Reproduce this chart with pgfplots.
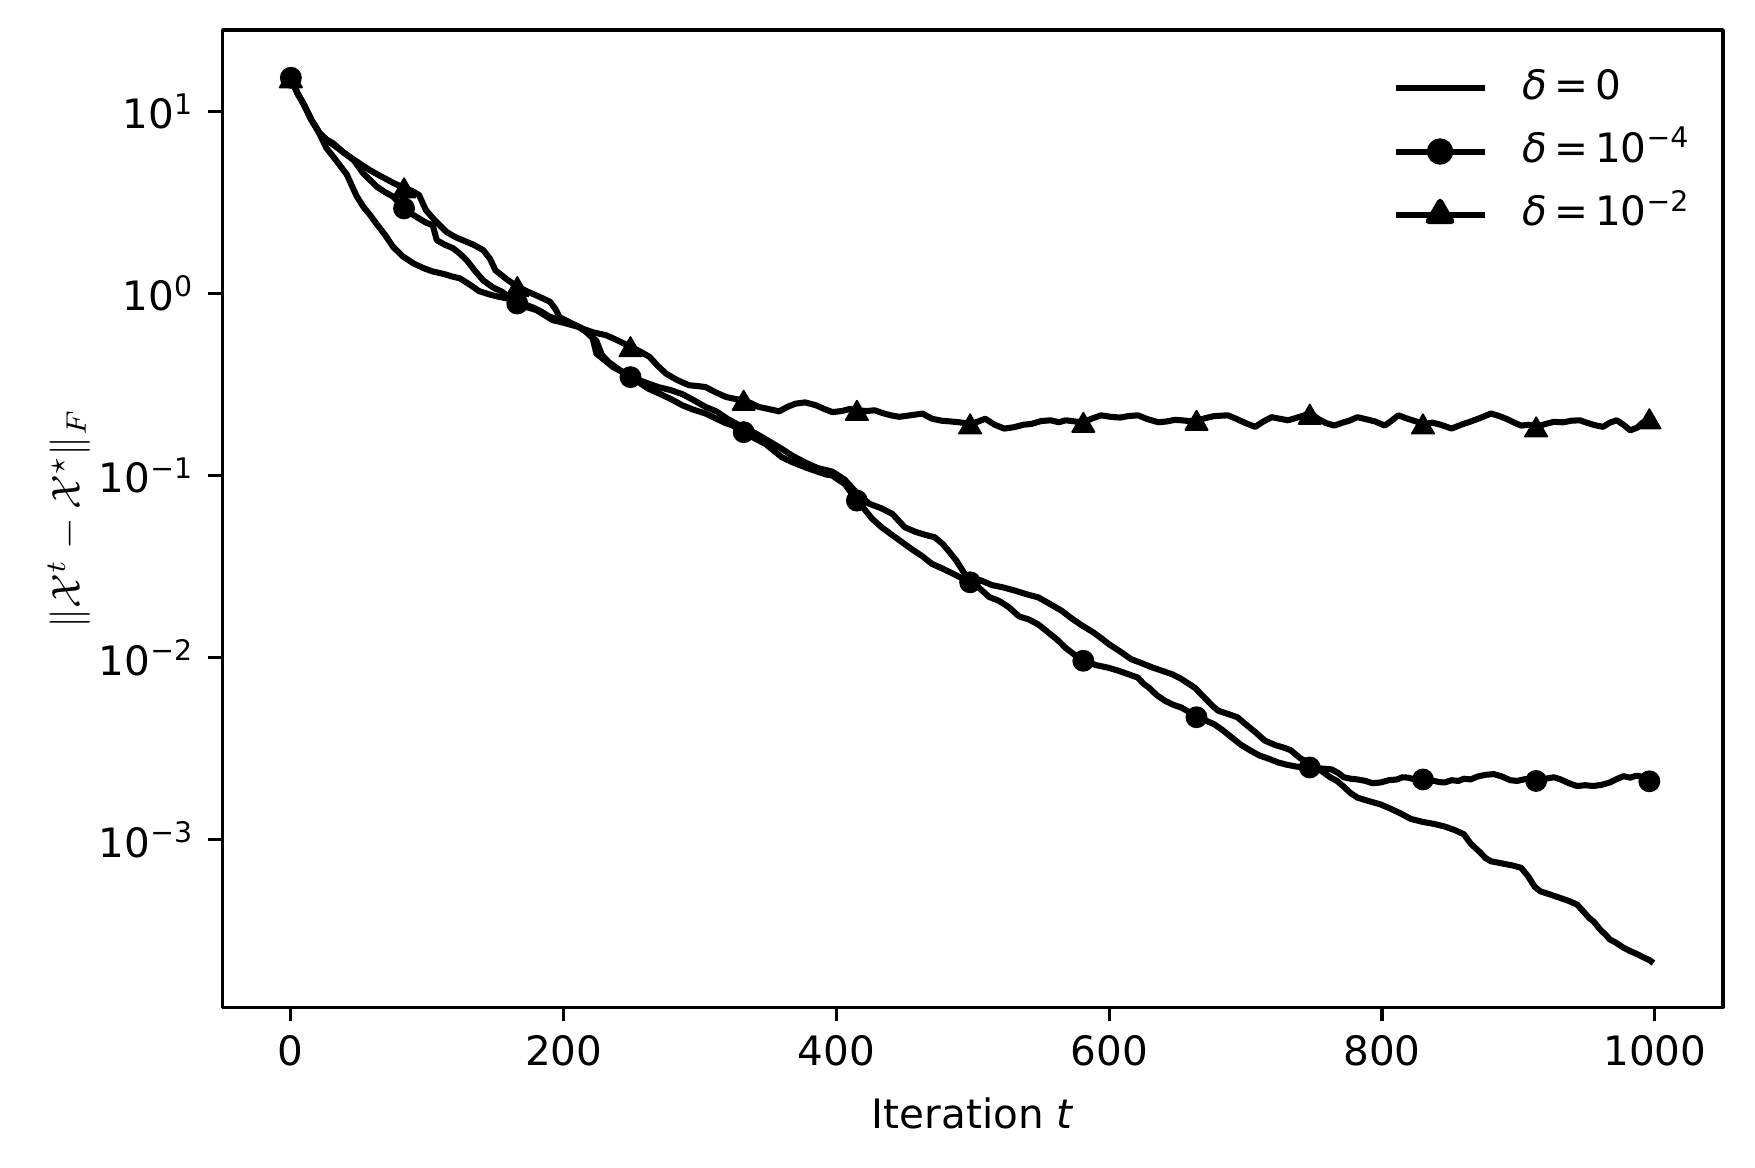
\documentclass[border=0pt]{standalone}
\usepackage{fontspec}
\setmainfont{DejaVu Sans}
\usepackage{pgfplots}
\usepackage{pgfplotstable}
\pgfplotsset{compat=1.18}

\pgfplotstableread{
it v
0 15.3
5 12.5
9 11.1
15 9.0
20 7.8
26 6.3
33 5.4
41 4.5
48 3.45
53 3.0
58 2.7
63 2.4
69 2.1
75 1.8
82 1.6
90 1.46
97 1.38
104 1.32
112 1.28
118 1.24
124 1.21
131 1.12
138 1.03
145 0.99
152 0.96
158 0.94
163 0.92
170 0.88
177 0.84
183 0.80
189 0.75
195 0.72
200 0.70
206 0.68
211 0.655
216 0.62
220 0.58
224 0.55
228 0.46
233 0.42
241 0.38
248 0.355
255 0.335
262 0.32
270 0.305
278 0.295
287 0.28
295 0.26
304 0.238
312 0.225
320 0.205
328 0.19
336 0.178
344 0.165
352 0.152
360 0.14
368 0.128
377 0.118
386 0.11
397 0.105
406 0.095
415 0.08
424 0.07
433 0.066
441 0.0615
450 0.052
458 0.049
466 0.047
472 0.0458
478 0.042
482 0.0387
488 0.034
494 0.0288
500 0.0272
506 0.0265
514 0.025
522 0.0243
531 0.0233
540 0.0222
548 0.0214
556 0.0198
565 0.0181
572 0.0165
580 0.015
588 0.0138
594 0.0128
600 0.0118
608 0.0108
616 0.0098
624 0.0093
632 0.0088
638 0.0085
646 0.0081
652 0.0077
658 0.0072
663 0.0068
670 0.0060
676 0.0054
680 0.0051
687 0.0049
694 0.0047
700 0.0043
707 0.0039
714 0.0035
722 0.0033
728 0.0032
733 0.0031
740 0.0028
748 0.0026
755 0.0024
762 0.0022
767 0.0021
772 0.00195
777 0.0018
782 0.0017
790 0.00163
799 0.00156
806 0.00148
813 0.0014
821 0.0013
830 0.00125
838 0.00122
846 0.00118
853 0.00113
860 0.00107
865 0.00095
872 0.00085
876 0.00079
880 0.00076
888 0.00074
896 0.00072
902 0.0007
907 0.00063
912 0.00055
916 0.00052
923 0.00050
930 0.00048
937 0.00046
943 0.00044
948 0.0004
952 0.00037
955 0.000356
960 0.00032
964 0.0003
967 0.000283
972 0.00027
977 0.000255
982 0.000244
987 0.000235
992 0.000225
996 0.000218
999 0.00021
}\dzero

\pgfplotstableread{
it v
0 15.3
5 12.5
9 11.1
15 9.0
21 7.6
26 7.0
31 6.68
38 6.0
46 5.4
53 4.57
58 4.2
63 3.86
69 3.6
75 3.4
79 3.15
83 2.93
88 2.75
94 2.58
99 2.45
104 2.37
107 1.96
113 1.85
119 1.77
124 1.65
129 1.52
135 1.33
141 1.18
148 1.08
155 1.02
160 0.95
166 0.88
173 0.84
180 0.81
186 0.76
192 0.713
200 0.69
206 0.67
211 0.655
216 0.62
221 0.577
224 0.467
230 0.43
236 0.395
243 0.37
249 0.347
255 0.325
262 0.30
270 0.282
279 0.262
287 0.243
295 0.23
304 0.219
312 0.205
318 0.195
324 0.188
332 0.173
340 0.16
348 0.149
354 0.137
360 0.126
368 0.118
377 0.111
386 0.105
393 0.101
397 0.1
402 0.094
406 0.09
411 0.08
415 0.0728
420 0.066
426 0.058
433 0.052
441 0.047
450 0.042
456 0.039
463 0.036
470 0.0327
477 0.031
485 0.029
491 0.0275
498 0.0259
505 0.024
512 0.0215
519 0.0205
526 0.019
534 0.0168
541 0.0162
548 0.0152
555 0.0138
562 0.0125
568 0.0113
575 0.0103
582 0.0096
590 0.0091
599 0.0088
606 0.0085
614 0.0081
621 0.00776
625 0.0072
629 0.00684
635 0.0062
641 0.00578
647 0.0055
653 0.00531
659 0.0050
665 0.00468
671 0.0045
677 0.0043
683 0.0040
690 0.00363
697 0.0033
704 0.00307
710 0.0029
717 0.00278
724 0.00265
730 0.00258
737 0.00252
742 0.0025
748 0.00249
755 0.00246
763 0.00243
768 0.00232
772 0.0022
777 0.00216
782 0.00214
788 0.0021
793 0.00204
799 0.00206
805 0.00212
811 0.00214
815 0.0022
819 0.00219
825 0.00213
831 0.00214
837 0.00211
842 0.00207
846 0.00206
851 0.00212
856 0.0021
860 0.00216
865 0.00214
870 0.00222
876 0.00227
882 0.00229
888 0.00222
894 0.00212
899 0.0021
905 0.00215
910 0.00211
914 0.0021
920 0.00216
926 0.0022
931 0.00214
937 0.00204
943 0.00197
949 0.00199
955 0.00197
961 0.002
967 0.00206
972 0.00215
977 0.00223
982 0.00219
986 0.00224
989 0.00223
993 0.00215
996 0.00209
999 0.0021
}\dfour

\pgfplotstableread{
it v
0 15.3
83 2.93
166 0.88
249 0.347
332 0.173
415 0.0728
498 0.0259
581 0.0096
664 0.0047
747 0.00249
830 0.00214
913 0.0021
996 0.00209
}\mfour

\pgfplotstableread{
it v
0 15.3
5 12.5
9 11.1
15 9.0
21 7.6
27 6.9
33 6.4
42 5.7
50 5.2
58 4.75
66 4.4
75 4.05
83 3.8
89 3.65
94 3.47
99 2.87
106 2.5
114 2.18
120 2.05
126 1.96
134 1.85
141 1.73
146 1.55
150 1.34
158 1.2
166 1.09
174 1.02
182 0.96
190 0.90
194 0.82
197 0.74
205 0.69
214 0.64
222 0.61
231 0.59
240 0.55
249 0.51
256 0.48
263 0.448
269 0.40
275 0.363
283 0.335
292 0.313
298 0.31
304 0.306
312 0.285
319 0.27
326 0.263
332 0.259
337 0.25
343 0.238
350 0.232
358 0.225
364 0.238
370 0.248
377 0.252
385 0.243
391 0.232
397 0.223
404 0.226
410 0.232
415 0.228
422 0.226
428 0.228
434 0.22
440 0.214
446 0.21
452 0.213
458 0.216
463 0.219
470 0.205
477 0.2
484 0.198
490 0.196
498 0.192
504 0.198
509 0.205
516 0.19
523 0.181
530 0.184
537 0.19
543 0.192
550 0.199
557 0.201
563 0.196
568 0.201
575 0.198
581 0.196
587 0.205
594 0.214
601 0.21
608 0.208
614 0.212
621 0.214
628 0.204
636 0.196
642 0.198
648 0.202
653 0.201
659 0.199
665 0.201
671 0.207
677 0.212
682 0.213
687 0.214
693 0.205
700 0.194
707 0.185
713 0.198
719 0.209
725 0.205
731 0.201
737 0.207
743 0.214
748 0.219
753 0.205
759 0.194
765 0.188
771 0.195
776 0.2
782 0.209
788 0.204
795 0.198
802 0.188
807 0.2
812 0.214
818 0.206
825 0.198
831 0.192
837 0.195
843 0.19
851 0.181
858 0.19
865 0.198
872 0.207
880 0.219
886 0.212
891 0.205
897 0.195
902 0.188
908 0.19
913 0.185
920 0.192
926 0.197
933 0.196
939 0.2
945 0.201
950 0.195
956 0.189
962 0.185
967 0.195
972 0.201
977 0.19
982 0.177
987 0.183
991 0.195
996 0.205
999 0.209
}\dtwo

\pgfplotstableread{
it v
0 15.3
83 3.8
166 1.09
249 0.51
332 0.259
415 0.228
498 0.192
581 0.196
664 0.201
747 0.217
830 0.192
913 0.185
996 0.205
}\mtwo

\begin{document}
\begin{tikzpicture}
\begin{axis}[
  scale only axis,
  width=370.6pt, height=241.4pt,
  ymode=log,
  xmin=-50, xmax=1050,
  ymin=1.2e-4, ymax=28,
  xtick={0,200,400,600,800,1000},
  ytick={1e-3,1e-2,1e-1,1,10},
  yticklabels={10\textsuperscript{−3},10\textsuperscript{−2},10\textsuperscript{−1},10\textsuperscript{0},10\textsuperscript{1}},
  yminorticks=false, xminorticks=false,
  tick align=outside, tick pos=left,
  major tick length=3.5pt,
  every tick/.style={black, line width=0.8pt},
  axis line style={line width=0.8pt},
  /pgf/number format/assume math mode=true,
  /pgf/number format/1000 sep={},
  tick label style={font=\fontsize{10}{12}\selectfont},
  xlabel={Iteration \textit{t}},
  ylabel={$\|\mathcal{X}^t - \mathcal{X}^\star\|_F$},
  xlabel style={at={(axis description cs:0.5,0)}, anchor=center, yshift=-26.3pt, font=\fontsize{10}{12}\selectfont},
  ylabel style={at={(axis description cs:-0.1025,0.5)}, anchor=center, font=\fontsize{10}{12}\selectfont},
  legend cell align=left,
  legend style={draw=none, fill=none, at={(0.9828,0.969)}, anchor=north east,
    inner sep=0pt, row sep=2.1pt,
    font=\fontsize{10}{12}\selectfont,
    nodes={text height=8pt, text depth=2.5pt, inner sep=1.5pt},
    /tikz/every odd column/.append style={column sep=7.2pt}},
  legend image code/.code={\draw[mark repeat=2,mark phase=2,#1] plot coordinates {(0pt,0pt) (11pt,0pt) (22pt,0pt)};},
  line join=round,
]
\addplot[black, line width=1.5pt, no marks] table[x=it,y=v] {\dzero};
\addlegendentry{\textit{δ}\,=\,0}

\addplot[black, line width=1.5pt, no marks, forget plot] table[x=it,y=v] {\dfour};
\addplot[black, only marks, mark=*, mark size=2.5pt, forget plot] table[x=it,y=v] {\mfour};
\addlegendimage{black, line width=1.5pt, mark=*, mark size=2.5pt}
\addlegendentry{\textit{δ}\,=\,10\textsuperscript{−4}}

\addplot[black, line width=1.5pt, no marks, forget plot] table[x=it,y=v] {\dtwo};
\addplot[black, only marks, mark=triangle*, mark size=3.2pt, forget plot, every mark/.append style={yshift=-0.8pt}] table[x=it,y=v] {\mtwo};
\addlegendimage{black, line width=1.5pt, mark=triangle*, mark size=3.2pt}
\addlegendentry{\textit{δ}\,=\,10\textsuperscript{−2}}
\end{axis}
\pgfresetboundingbox
\useasboundingbox ([shift={(-55pt,-39.5pt)}]current axis.south west) rectangle ([shift={(7.9pt,7.4pt)}]current axis.north east);
\end{tikzpicture}
\end{document}
